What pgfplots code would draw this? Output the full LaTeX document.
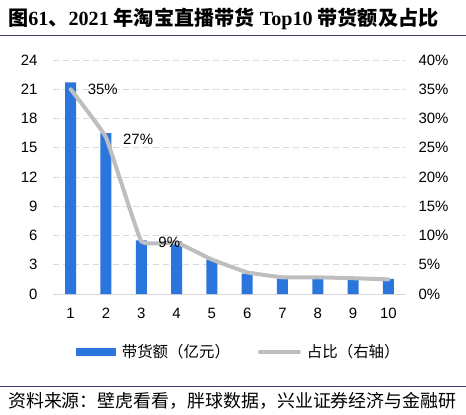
\documentclass[border=0pt]{standalone}
\usepackage{pgfplots}
\pgfplotsset{compat=1.18}
\usepackage{fontspec}
\setmainfont{Liberation Sans}
\newfontfamily\cjk{Noto Sans CJK SC}
\newfontfamily\tnr{Liberation Serif}
\definecolor{barblue}{RGB}{42,118,220}
\definecolor{linegray}{RGB}{190,190,190}
\definecolor{gridgray}{RGB}{217,217,217}
\definecolor{navy}{RGB}{58,61,107}
\newcommand{\T}[1]{{\tnr\bfseries #1}}
\newcommand{\C}[1]{{\cjk\bfseries #1}}

\pgfplotsset{
  base/.style={
    at={(0,0)}, anchor=south west,
    scale only axis, width=353bp, height=234bp,
    xmin=0.5, xmax=10.5,
    major tick length=0pt,
    /pgf/number format/assume math mode=true,
    tick label style={font=\fontsize{15}{15}\selectfont},
  },
}

\begin{document}
\begin{tikzpicture}[x=1bp,y=1bp]
\path[use as bounding box] (-53,-120) rectangle (413,294);

% title and source
\node[anchor=west, inner sep=0, font=\fontsize{20.2}{20.2}\selectfont] at (-45,275)
  {\C{图}\T{61}\C{、}\T{2021 }\C{年淘宝直播带货}\T{ Top10 }\C{带货额及占比}};
\draw[navy, line width=1.2bp] (-53,258.5) -- (413,258.5);
\draw[navy, line width=1.2bp] (-53,-92.7) -- (413,-92.7);
\node[anchor=west, inner sep=0, font=\cjk\fontsize{18}{18}\selectfont] at (-45,-107)
  {资料来源：壁虎看看，胖球数据，兴业证券经济与金融研};

% bars, left axis
\begin{axis}[base,
  ymin=0, ymax=24, ytick={0,3,...,24},
  xtick={1,...,10},
  axis x line*=bottom, axis y line*=left,
  x axis line style={gridgray, line width=1bp},
  y axis line style={draw=none},
  ymajorgrids, grid style={gridgray, line width=1bp, dash pattern=on 6bp off 4bp},
  yticklabel shift=12bp, xticklabel shift=11bp,
]
\addplot[ybar, bar width=11bp, bar shift=0pt, fill=barblue, draw=none]
  coordinates {(1,21.7) (2,16.5) (3,5.5) (4,5.4) (5,3.55) (6,2.1) (7,1.6) (8,1.6) (9,1.55) (10,1.55)};
\end{axis}

% share line, right axis
\begin{axis}[base,
  ymin=0, ymax=40, ytick={0,5,...,40},
  yticklabel={\pgfmathprintnumber{\tick}\%},
  axis x line=none, axis y line*=right,
  y axis line style={draw=none},
  yticklabel shift=9bp,
  legend columns=2,
  legend style={at={(0.527,-0.248)}, anchor=center, draw=none, fill=none,
    font=\cjk\fontsize{15.5}{15.5}\selectfont,
    /tikz/every odd column/.append style={column sep=4bp},
    /tikz/every even column/.append style={column sep=26bp}},
]
\addlegendimage{legend image code/.code={\fill[barblue] (0bp,-3.5bp) rectangle (39bp,3.5bp);}}
\addlegendentry{带货额（亿元）}
\addplot[linegray, line width=4bp, smooth, tension=0.15, line cap=round,
  legend image code/.code={\draw[linegray, line width=4bp, line cap=round] (2bp,0) -- (41bp,0);}]
  coordinates {(1,35) (2,26.8) (3,9.0) (4,8.8) (5,5.9) (6,3.7) (7,2.85) (8,2.85) (9,2.7) (10,2.5)};
\addlegendentry{占比（右轴）}
\node[anchor=west, inner sep=0, font=\fontsize{15}{15}\selectfont, xshift=17bp] at (axis cs:1,35) {35\%};
\node[anchor=west, inner sep=0, font=\fontsize{15}{15}\selectfont, xshift=17bp] at (axis cs:2,26.5) {27\%};
\node[anchor=west, inner sep=0, font=\fontsize{15}{15}\selectfont, xshift=17bp] at (axis cs:3,8.8) {9\%};
\end{axis}
\end{tikzpicture}
\end{document}
